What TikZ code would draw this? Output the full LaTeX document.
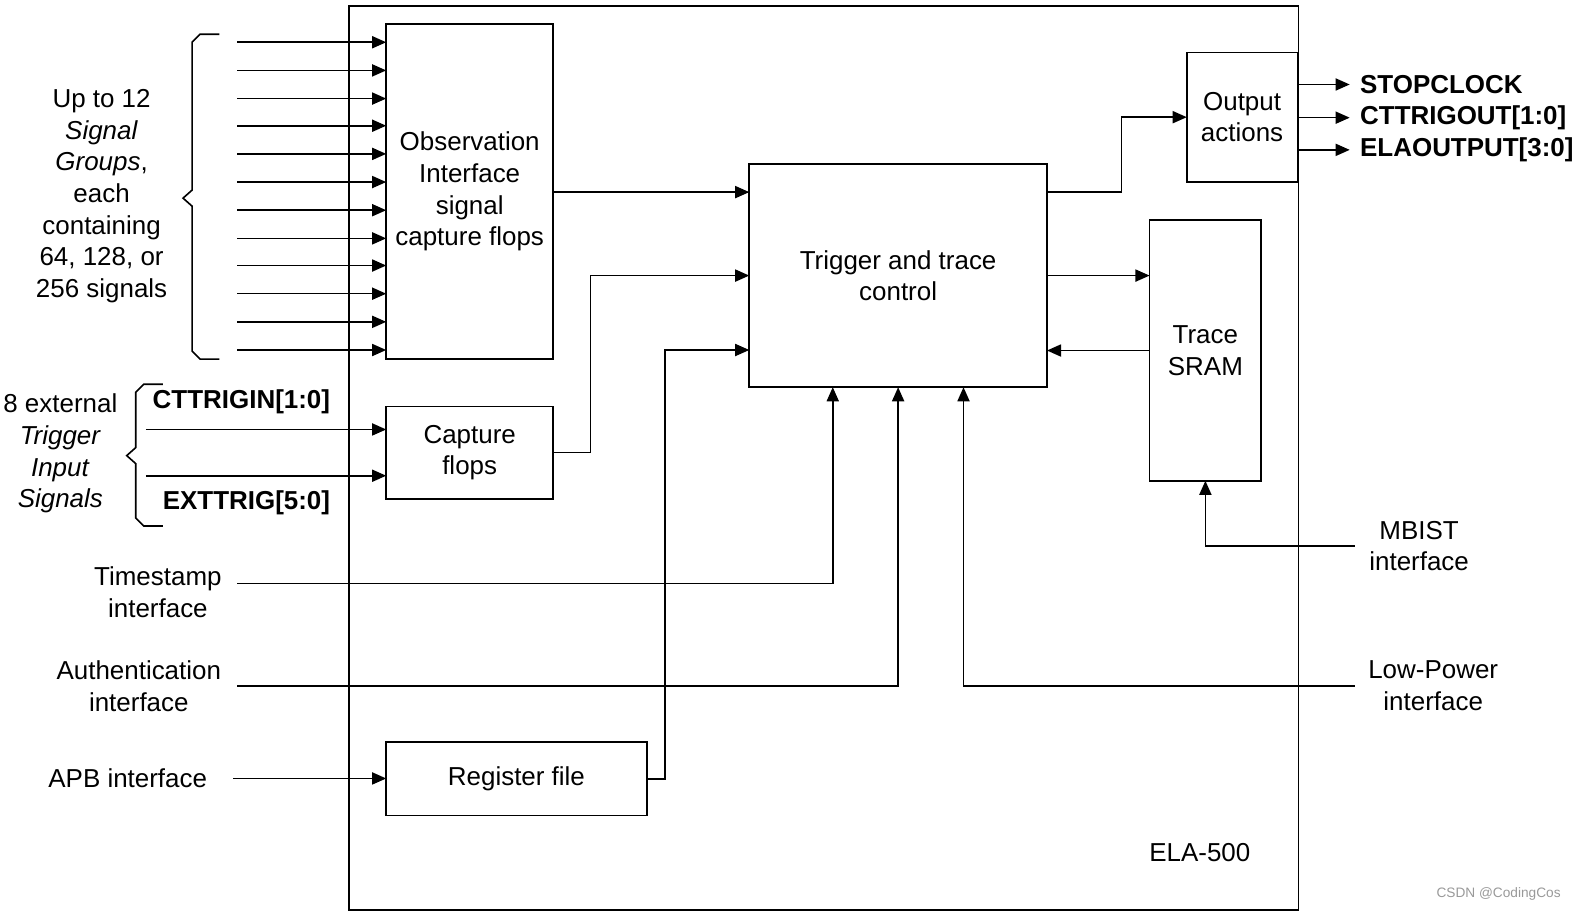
\documentclass[tikz,border=0pt]{standalone}
\usepackage{fontspec}
\setmainfont{Liberation Sans}
\usetikzlibrary{arrows.meta,calc}
\begin{document}
\begin{tikzpicture}[x=0.5pt,y=-0.5pt,
  every node/.style={font=\fontsize{12.9pt}{15.75pt}\selectfont},
  box/.style={draw, line width=0.8pt, inner sep=0pt, outer sep=0pt, anchor=north west, align=center},
  lbl/.style={align=center, inner sep=0pt},
  bl/.style={font=\fontsize{12.9pt}{15.75pt}\selectfont\bfseries, inner sep=0pt},
  conn/.style={line width=0.8pt},
  arr/.style={line width=0.8pt, -{Triangle[length=7pt,width=6pt]}},
  brace/.style={line width=0.8pt, line join=miter}]
\useasboundingbox (0,0) rectangle (1568,907);

% outer frame
\node[box, minimum width=472pt, minimum height=449.5pt] (ela) at (347,6) {};
\node[lbl] (elalbl) at (1193,848) {ELA-500};

% boxes
\node[box, minimum width=83pt, minimum height=166.5pt] (obs) at (384,24) {Observation\\Interface\\signal\\capture flops};
\node[box, minimum width=83pt, minimum height=46pt] (cap) at (384,404) {Capture\\flops};
\node[box, minimum width=129.5pt, minimum height=36.5pt] (reg) at (384,738) {Register file};
\node[box, minimum width=148pt, minimum height=111pt] (trig) at (745,163) {Trigger and trace\\control};
\node[box, minimum width=55pt, minimum height=64.5pt] (out) at (1180,52) {Output\\actions};
\node[box, minimum width=55.5pt, minimum height=129.5pt] (sram) at (1143,219) {Trace\\SRAM};

% signal group inputs
\foreach \i/\y in {1/42,2/70,3/98,4/125,5/153,6/181,7/209,8/237,9/264,10/292,11/320,12/348} {
  \coordinate (in\i) at (236,\y);
  \draw[arr] (in\i) -- (in\i -| obs.west);
}
\draw[brace] (218,34) -- (199,34) -- (191,42) -- (191,189) -- (182,197) -- (191,205) -- (191,349) -- (199,357) -- (218,357);
\node[lbl] (sg) at (101,195) {Up to 12\\\textit{Signal}\\\textit{Groups},\\each\\containing\\64, 128, or\\256 signals};

% trigger inputs
\coordinate (ctin) at (145,427);
\coordinate (exin) at (145,473);
\draw[arr] (ctin) -- (ctin -| cap.west);
\draw[arr] (exin) -- (exin -| cap.west);
\node[bl] (ctlbl) at (240,399) {CTTRIGIN[1:0]};
\node[bl] (exlbl) at (245,500) {EXTTRIG[5:0]};
\draw[brace] (162,382) -- (143,382) -- (135,390) -- (135,445) -- (126,453) -- (135,461) -- (135,515) -- (143,523) -- (162,523);
\node[lbl] (ext) at (60,451) {8 external\\\textit{Trigger}\\\textit{Input}\\\textit{Signals}};

% APB
\node[lbl] (apb) at (127,774) {APB interface};
\coordinate (apbin) at (232,774);
\draw[arr] (apbin) -- (apbin -| reg.west);

% internal connections
\draw[arr] (obs.east |- 0,191) -- (trig.west |- 0,191);
\draw[arr] (cap.east) -- ++(37,0) |- (trig.west);
\draw[arr] (reg.east) -- ++(18,0) |- ($(trig.west)+(0,74)$);
\draw[arr] ($(trig.north east)+(0,28)$) -- ++(74,0) |- (out.west);
\draw[arr] (trig.east) -- (trig.east -| sram.west);
\draw[arr] (sram.west) -- (sram.west -| trig.east);

% outputs
\node[bl, anchor=west, inner xsep=5pt] (stop) at (1342,84) {STOPCLOCK};
\node[bl, anchor=west, inner xsep=5pt] (ctout) at (1342,117) {CTTRIGOUT[1:0]};
\node[bl, anchor=west, inner xsep=5pt] (elaout) at (1342,149) {ELAOUTPUT[3:0]};
\draw[arr] (out.east |- stop.west) -- (stop.west);
\draw[arr] (out.east |- ctout.west) -- (ctout.west);
\draw[arr] (out.east |- elaout.west) -- (elaout.west);

% bottom interfaces
\node[lbl] (ts) at (157,589) {Timestamp\\interface};
\coordinate (tsin) at (236,580);
\draw[arr] (tsin) -| ($(trig.south)+(-65,0)$);
\node[lbl] (auth) at (138,682) {Authentication\\interface};
\coordinate (authin) at (236,682);
\draw[arr] (authin) -| (trig.south);
\node[lbl] (lp) at (1425,682) {Low-Power\\interface};
\coordinate (lpin) at (1347,682);
\draw[arr] (lpin) -| ($(trig.south)+(65,0)$);
\node[lbl] (mb) at (1411,543) {MBIST\\interface};
\coordinate (mbin) at (1347,543);
\draw[arr] (mbin) -| (sram.south);

% watermark
\node[inner sep=0pt, text=gray!80, font=\fontsize{6.8pt}{8pt}\selectfont] (wm) at (1490,889) {CSDN @CodingCos};
\end{tikzpicture}
\end{document}
